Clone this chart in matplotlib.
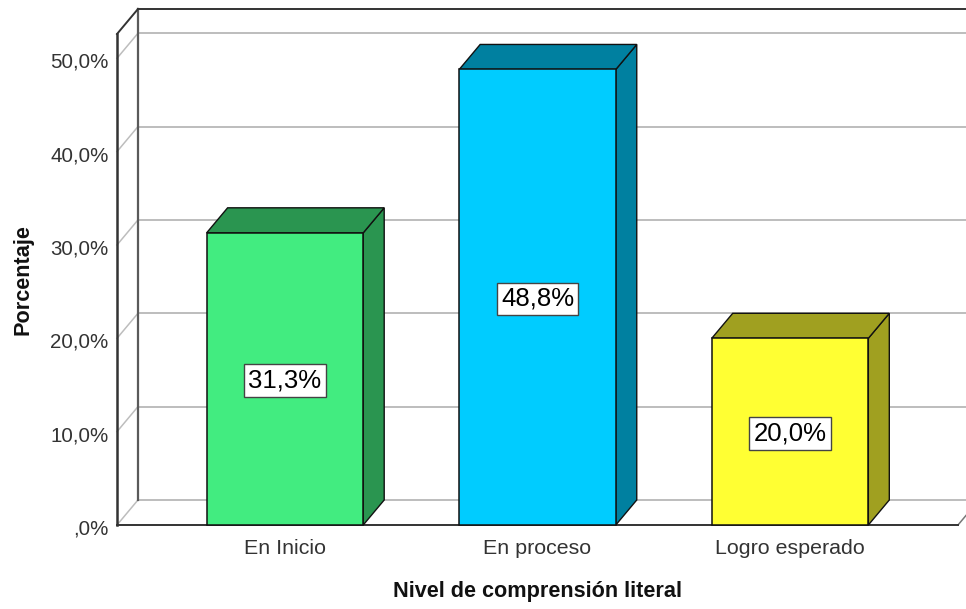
import matplotlib
matplotlib.use('Agg')
import matplotlib.pyplot as plt
from matplotlib.patches import Polygon, Rectangle
from matplotlib.transforms import ScaledTranslation

categories = ['En Inicio', 'En proceso', 'Logro esperado']
values = [31.3, 48.8, 20.0]
value_labels = ['31,3%', '48,8%', '20,0%']
y_ticks = [0, 10, 20, 30, 40, 50]
y_tick_labels = [',0%', '10,0%', '20,0%', '30,0%', '40,0%', '50,0%']
front_colors = ['#42EC80', '#00CCFF', '#FFFF33']
side_colors = ['#2A9550', '#0080A0', '#A0A020']

W, H = 966, 609
LEFT, RIGHT, BASE, TOP = 117, 958, 525, 34
BAR_W = 0.62
# 3D depth in data units
DX = 0.083
DY = 2.68
Y_MAX = 52.6
X_MIN, X_MAX = -0.665, 2.665

plt.rcParams['font.family'] = ['Liberation Sans', 'DejaVu Sans']

fig = plt.figure(figsize=(W / 100, H / 100), dpi=100)
ax = fig.add_axes([LEFT / W, (H - BASE) / H, (RIGHT - LEFT) / W, (BASE - TOP) / H])
ax.set_xlim(X_MIN, X_MAX)
ax.set_ylim(0, Y_MAX)

dark = '#333333'
gray = '#BDBDBD'

# gridlines on back wall and left wall
for t in y_ticks:
    ax.plot([X_MIN + DX, X_MAX + DX], [t + DY, t + DY], color=gray, lw=1.4,
            clip_on=False, zorder=1)
    ax.plot([X_MIN, X_MIN + DX], [t, t + DY], color=gray, lw=1.1,
            clip_on=False, zorder=1)
ax.plot([X_MAX, X_MAX + DX], [0, DY], color='#777777', lw=1.1, clip_on=False, zorder=1)

# wall frame
ax.plot([X_MIN + DX, X_MIN + DX], [DY, Y_MAX + DY], color='#5A5A5A', lw=1.6,
        clip_on=False, zorder=2)
ax.plot([X_MIN, X_MIN + DX], [Y_MAX, Y_MAX + DY], color=dark, lw=1.4,
        clip_on=False, zorder=2)
ax.plot([X_MIN + DX, X_MAX + DX], [Y_MAX + DY, Y_MAX + DY], color=dark, lw=1.4,
        clip_on=False, zorder=2)
ax.plot([X_MIN, X_MIN], [0, Y_MAX], color=dark, lw=1.8, clip_on=False, zorder=2)
ax.plot([X_MIN, X_MAX], [0, 0], color=dark, lw=1.4, clip_on=False, zorder=2)

# bars
for i, v in enumerate(values):
    x0 = i - BAR_W / 2
    x1 = i + BAR_W / 2
    ax.add_patch(Polygon([(x1, 0), (x1 + DX, DY), (x1 + DX, v + DY), (x1, v)],
                         fc=side_colors[i], ec='#111111', lw=1.0, zorder=3,
                         clip_on=False))
    ax.add_patch(Polygon([(x0, v), (x0 + DX, v + DY), (x1 + DX, v + DY), (x1, v)],
                         fc=side_colors[i], ec='#111111', lw=1.0, zorder=3,
                         clip_on=False))
    ax.add_patch(Rectangle((x0, 0), BAR_W, v, fc=front_colors[i], ec='#111111',
                           lw=1.1, zorder=4, clip_on=False))
    ax.annotate(value_labels[i], (i, v / 2), xytext=(0, -1.2),
                textcoords='offset points', ha='center', va='center',
                fontsize=18.5, color='black', zorder=5,
                bbox=dict(boxstyle='square,pad=0.17', fc='white', ec='#444444', lw=1.0))

for s in ax.spines.values():
    s.set_visible(False)
ax.patch.set_visible(False)

ax.set_xticks(range(len(categories)))
ax.set_xticklabels(categories, fontsize=15.4, color=dark)
ax.set_yticks(y_ticks)
ax.set_yticklabels(y_tick_labels, fontsize=14.8, color=dark, va='center')
ax.tick_params(axis='x', length=0, pad=10)
ax.tick_params(axis='y', length=0, pad=6)
# tick labels sit a little under their tick
shift = ScaledTranslation(0, -4 / 100, fig.dpi_scale_trans)
for lab in ax.get_yticklabels():
    lab.set_transform(lab.get_transform() + shift)
ax.set_xlabel('Nivel de comprensión literal', fontsize=15.6, fontweight='bold',
              color='#111111', labelpad=17)
ax.set_ylabel('Porcentaje', fontsize=15.6, fontweight='bold', color='#111111',
              labelpad=12)

fig.savefig('out.png', dpi=100)
